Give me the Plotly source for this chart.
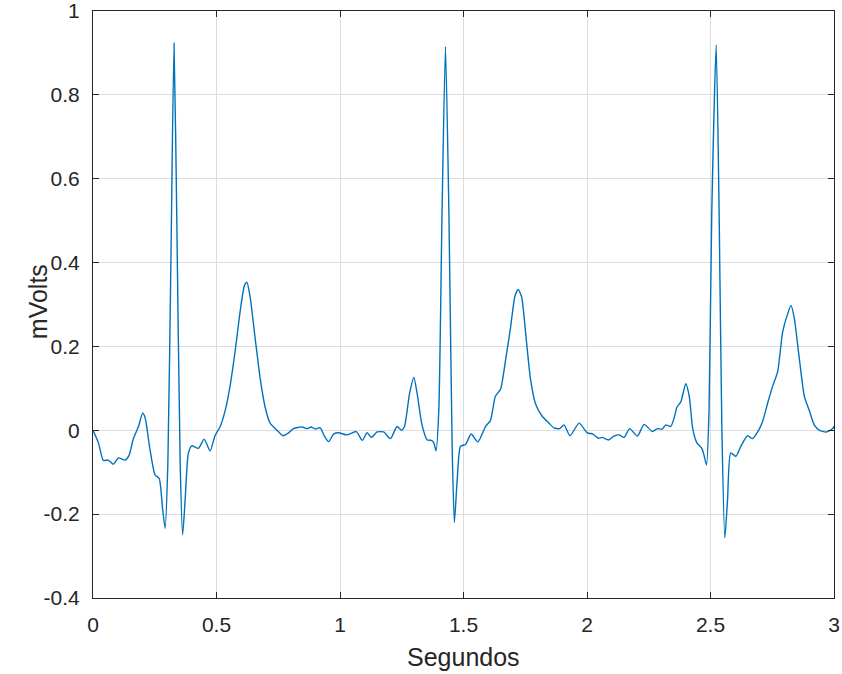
import plotly.graph_objects as go

# ECG trace (seconds, millivolts)
t_s = [0.000, 0.022, 0.042, 0.062, 0.082, 0.103, 0.130, 0.146, 0.163, 0.184, 0.201, 0.211,
       0.231, 0.251, 0.268, 0.281, 0.292, 0.303, 0.316, 0.328, 0.339, 0.353, 0.363, 0.373,
       0.386, 0.400, 0.427, 0.450, 0.474, 0.494, 0.515, 0.535, 0.555, 0.576, 0.596, 0.613,
       0.623, 0.636, 0.657, 0.677, 0.697, 0.717, 0.745, 0.769, 0.792, 0.812, 0.846, 0.866,
       0.883, 0.900, 0.920, 0.936, 0.954, 0.974, 0.994, 1.028, 1.066, 1.090, 1.110, 1.127,
       1.150, 1.177, 1.204, 1.231, 1.249, 1.261, 1.282, 1.299, 1.312, 1.332, 1.353, 1.370,
       1.380, 1.389, 1.400, 1.413, 1.427, 1.441, 1.454, 1.463, 1.474, 1.488, 1.508, 1.531,
       1.558, 1.589, 1.609, 1.629, 1.650, 1.670, 1.690, 1.708, 1.721, 1.735, 1.754, 1.771,
       1.791, 1.818, 1.846, 1.866, 1.889, 1.907, 1.931, 1.968, 2.001, 2.024, 2.046, 2.062,
       2.087, 2.109, 2.130, 2.150, 2.173, 2.204, 2.231, 2.265, 2.285, 2.305, 2.319, 2.339,
       2.353, 2.364, 2.380, 2.400, 2.414, 2.428, 2.445, 2.465, 2.474, 2.484, 2.494, 2.505,
       2.523, 2.535, 2.546, 2.558, 2.569, 2.582, 2.603, 2.623, 2.650, 2.670, 2.691, 2.711,
       2.731, 2.752, 2.772, 2.792, 2.812, 2.826, 2.839, 2.859, 2.880, 2.900, 2.920, 2.941,
       2.968, 2.995, 3.000]
mv = [0.000, -0.030, -0.072, -0.071, -0.081, -0.066, -0.071, -0.060, -0.021, 0.009, 0.041, 0.030,
      -0.047, -0.106, -0.115, -0.183, -0.234, -0.081, 0.430, 0.923, 0.515, -0.081, -0.249, -0.166,
      -0.055, -0.037, -0.043, -0.021, -0.049, -0.013, 0.009, 0.047, 0.106, 0.191, 0.285, 0.345,
      0.353, 0.319, 0.217, 0.123, 0.055, 0.017, 0.000, -0.013, -0.006, 0.004, 0.008, 0.004,
      0.008, 0.003, 0.006, -0.013, -0.027, -0.009, -0.006, -0.011, -0.003, -0.024, -0.006, -0.017,
      -0.004, -0.004, -0.020, 0.009, 0.000, 0.009, 0.089, 0.126, 0.089, 0.013, -0.023, -0.024,
      -0.030, -0.049, 0.047, 0.515, 0.915, 0.515, -0.038, -0.220, -0.123, -0.038, -0.034, -0.009,
      -0.028, 0.009, 0.023, 0.081, 0.098, 0.166, 0.243, 0.319, 0.336, 0.319, 0.217, 0.123,
      0.064, 0.034, 0.017, 0.006, 0.004, 0.013, -0.013, 0.017, -0.006, -0.009, -0.019, -0.017,
      -0.023, -0.014, -0.011, -0.017, 0.004, -0.014, 0.014, -0.003, 0.004, 0.003, 0.013, 0.009,
      0.030, 0.055, 0.068, 0.111, 0.081, 0.004, -0.030, -0.043, -0.060, -0.083, 0.047, 0.515,
      0.919, 0.515, 0.004, -0.257, -0.166, -0.054, -0.062, -0.038, -0.013, -0.020, -0.004, 0.021,
      0.064, 0.106, 0.140, 0.234, 0.277, 0.298, 0.268, 0.174, 0.081, 0.047, 0.013, 0.000,
      -0.004, 0.004, 0.010]

x_ticks = [0, 0.5, 1, 1.5, 2, 2.5, 3]
x_labels = ["0", "0.5", "1", "1.5", "2", "2.5", "3"]
y_ticks = [-0.4, -0.2, 0, 0.2, 0.4, 0.6, 0.8, 1]
y_labels = ["-0.4", "-0.2", "0", "0.2", "0.4", "0.6", "0.8", "1"]

FONT = "Liberation Sans"
TXT = "#262626"

fig = go.Figure()
fig.add_trace(go.Scatter(x=t_s, y=mv, mode="lines",
                         line=dict(color="#0072BD", width=1.4, shape="spline", smoothing=0.6),
                         showlegend=False))

axis_common = dict(showline=True, linecolor="#262626", linewidth=1, mirror="allticks",
                   ticks="inside", ticklen=6, tickcolor="#262626",
                   showgrid=True, gridcolor="#dcdcdc", gridwidth=1, zeroline=False,
                   automargin=False, ticklabeloverflow="allow",
                   tickfont=dict(family=FONT, size=21, color=TXT))

fig.update_xaxes(range=[0, 3], tickvals=x_ticks, ticktext=x_labels,
                 ticklabelstandoff=8, **axis_common)
fig.update_yaxes(range=[-0.4, 1], tickvals=y_ticks, ticktext=y_labels,
                 ticklabelstandoff=8, **axis_common)

fig.update_layout(
    width=842, height=674, paper_bgcolor="white", plot_bgcolor="white",
    margin=dict(l=93, r=8, t=11, b=76),
    annotations=[
        dict(text="Segundos", xref="paper", yref="paper", x=0.5, y=-0.1005,
             xanchor="center", yanchor="middle", showarrow=False,
             font=dict(family=FONT, size=25, color=TXT)),
        dict(text="mVolts", xref="paper", yref="paper", x=-0.0742, y=0.504,
             xanchor="center", yanchor="middle", showarrow=False, textangle=-90,
             font=dict(family=FONT, size=25, color=TXT)),
    ],
)

# remove the default page margin so the figure fills the window exactly
fig.write_html("out.html",
               config={"displayModeBar": False},
               post_script="document.body.style.margin='0';document.body.style.overflow='hidden';")
